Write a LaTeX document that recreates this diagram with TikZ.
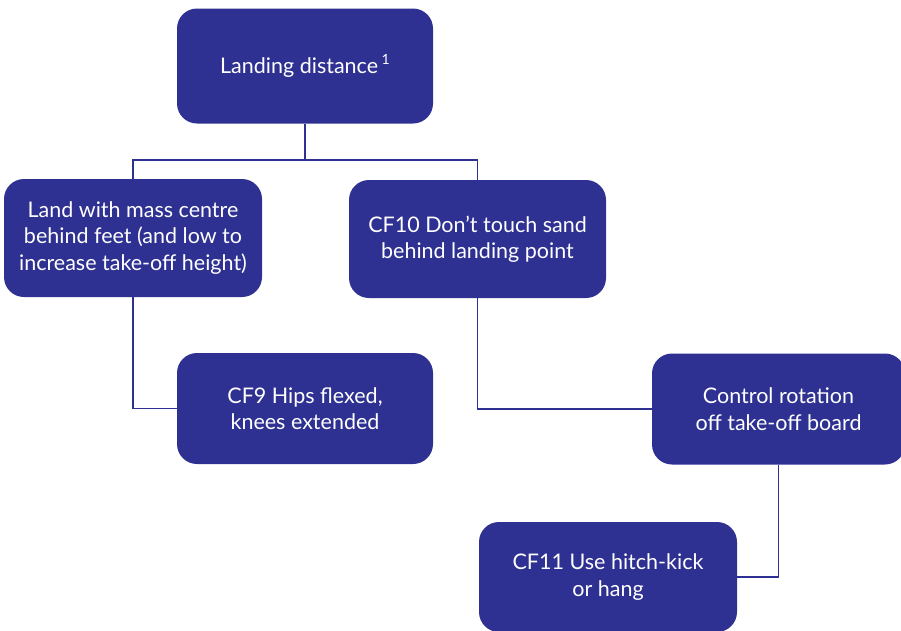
\documentclass[tikz,border=0pt]{standalone}
\usepackage{fontspec}
\setmainfont{Lato}
\definecolor{boxblue}{HTML}{2E3192}
\begin{document}
\begin{tikzpicture}[x=1pt,y=-1pt,
  box/.style={draw=none,fill=boxblue,rounded corners=20pt,text=white,align=center,
    font=\fontsize{21.5}{26.5}\selectfont,inner sep=0pt},
  link/.style={draw=boxblue,line width=1.6pt}]
\useasboundingbox (0,0) rectangle (901,630);
\node[box,minimum width=256pt,minimum height=115pt] (top) at (305,66) {Landing distance\,\raisebox{0.75ex}{\fontsize{14}{14}\selectfont 1}};
\node[box,minimum width=258pt,minimum height=118pt] (left) at (133,238) {Land with mass centre\\behind feet (and low to\\increase take-off height)};
\node[box,minimum width=257pt,minimum height=118pt] (mid) at (477.5,239) {CF10 Don’t touch sand\\behind landing point};
\node[box,minimum width=256pt,minimum height=111pt] (cf9) at (305,408.5) {CF9 Hips flexed,\\knees extended};
\node[box,minimum width=253pt,minimum height=111pt] (ctrl) at (778.5,409) {Control rotation\\off take-off board};
\node[box,minimum width=258pt,minimum height=110pt] (cf11) at (608,577) {CF11 Use hitch-kick\\or hang};
% connectors
\coordinate (split) at (305,160);
\draw[link] (top.south) -- (split);
\draw[link] (left.north) |- (split) -| (mid.north);
\draw[link] (left.south) |- (cf9.west);
\draw[link] (mid.south) |- (ctrl.west);
\draw[link] (ctrl.south) |- (cf11.east);
\end{tikzpicture}
\end{document}
